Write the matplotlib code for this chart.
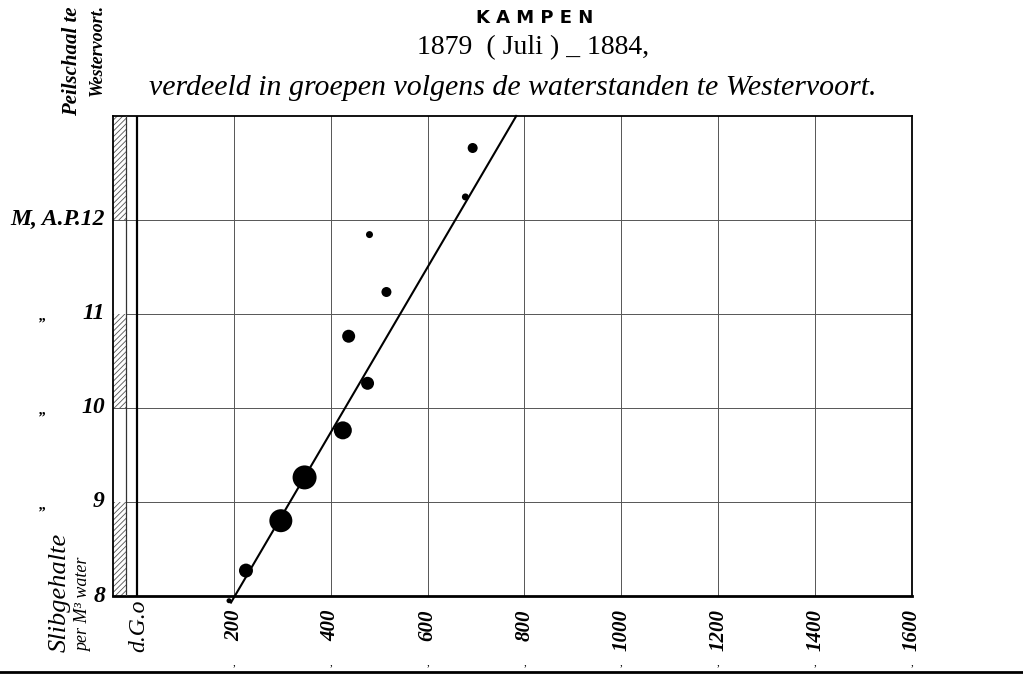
import matplotlib
matplotlib.use("Agg")
import matplotlib.pyplot as plt
from matplotlib.patches import Rectangle

# ========================================
# DATA
# ========================================

# waterstand-groups: afvoer (x) vs slibgehalte (y), dot diameter in px
afvoer = [190, 225, 297, 346, 425, 476, 437, 515, 480, 678, 693]
slib = [7.95, 8.27, 8.80, 9.26, 9.76, 10.26, 10.76, 11.23, 11.84, 12.24, 12.76]
dot_diam = [5, 14, 23, 24, 18, 13, 13, 10, 7, 7, 10]

# fitted line, two end points
line_x = [194, 783]
line_y = [7.93, 13.10]

x_ticks = [200, 400, 600, 800, 1000, 1200, 1400, 1600]
x_labels = ["200", "400", "600", "800", "1000", "1200", "1400", "1600"]
y_ticks = [8, 9, 10, 11, 12]
y_labels = ["8", "9", "10", "11", "M, A.P.12"]

# hatched parts of the gauge column (peilschaal)
gauge_hatched = [(8, 9), (10, 11), (12, 13.1)]

X_MIN, X_MAX = -49.5, 1600
Y_MIN, Y_MAX = 8, 13.1
GAUGE_RIGHT = -21.7

plt.rcParams["hatch.linewidth"] = 0.6
SERIF = "Liberation Serif"

fig = plt.figure(figsize=(10.23, 6.79), dpi=100)
fig.patch.set_facecolor("white")
ax = fig.add_axes([113 / 1023, 1 - 596 / 679, (912 - 113) / 1023, (596 - 116) / 679])
ax.set_xlim(X_MIN, X_MAX)
ax.set_ylim(Y_MIN, Y_MAX)

# grid
for xv in x_ticks[:-1]:
    ax.axvline(xv, color="#555555", lw=0.7, zorder=1)
for yv in y_ticks[1:]:
    ax.axhline(yv, color="#555555", lw=0.7, zorder=1)

# gauge column
for lo, hi in gauge_hatched:
    ax.add_patch(Rectangle((X_MIN, lo), GAUGE_RIGHT - X_MIN, hi - lo,
                           facecolor="white", edgecolor="#555555",
                           hatch="//////", lw=0, zorder=2))
ax.axvline(GAUGE_RIGHT, color="#333333", lw=0.9, zorder=3)
ax.axvline(0, color="black", lw=1.6, zorder=3)

# line and dots
ax.plot(line_x, line_y, color="black", lw=1.5, zorder=4, clip_on=False)
ax.scatter(afvoer, slib, s=[(d * 0.72) ** 2 for d in dot_diam],
           color="black", zorder=5, clip_on=False, linewidths=0)

for side in ["left", "right", "top"]:
    ax.spines[side].set_linewidth(1.3)
ax.spines["bottom"].set_linewidth(2.0)
ax.set_xticks([])
ax.set_yticks([])

# x labels (rotated)
for xv, lab in zip(x_ticks, x_labels):
    ax.text(xv, 7.86, lab, rotation=90, ha="center", va="top",
            fontsize=15, fontfamily=SERIF, fontstyle="italic", fontweight="bold")
    ax.text(xv, 7.29, ",", ha="center", va="center", fontsize=8, fontfamily=SERIF)

# y labels
for yv, lab in zip(y_ticks, y_labels):
    ax.text(-66, yv, lab, ha="right", va="center", fontsize=17,
            fontfamily=SERIF, fontstyle="italic", fontweight="bold")
for yv in [9, 10, 11]:
    fig.text(43 / 1023, ax.transData.transform((0, yv))[1] / 679 - 0.004, "\u201e",
             ha="center", va="center", fontsize=11, fontfamily=SERIF,
             fontstyle="italic", fontweight="bold")

# left rotated captions
fig.text(60 / 1023, 1 - 652 / 679, "Slibgehalte", rotation=90, ha="center", va="bottom",
         fontsize=19, fontfamily=SERIF, fontstyle="italic")
fig.text(84 / 1023, 1 - 652 / 679, "per M\u00b3 water", rotation=90, ha="center", va="bottom",
         fontsize=13, fontfamily=SERIF, fontstyle="italic")
fig.text(139 / 1023, 1 - 652 / 679, "d.G.o", rotation=90, ha="center", va="bottom",
         fontsize=17, fontfamily=SERIF, fontstyle="italic")
fig.text(72 / 1023, 1 - 116 / 679, "Peilschaal te", rotation=90, ha="center", va="bottom",
         fontsize=15, fontfamily=SERIF, fontstyle="italic", fontweight="bold")
fig.text(97 / 1023, 1 - 96 / 679, "Westervoort.", rotation=90, ha="center", va="bottom",
         fontsize=13, fontfamily=SERIF, fontstyle="italic", fontweight="bold")

# titles
fig.text(535 / 1023, 1 - 18 / 679, "K A M P E N", ha="center", va="center",
         fontsize=13, fontweight="bold", fontfamily="DejaVu Sans")
fig.text(533 / 1023, 1 - 48 / 679, "1879  ( Juli ) _ 1884,", ha="center", va="center",
         fontsize=20, fontfamily=SERIF)
fig.text(513 / 1023, 1 - 88 / 679,
         "verdeeld in groepen volgens de waterstanden te Westervoort.",
         ha="center", va="center", fontsize=21.5, fontfamily=SERIF, fontstyle="italic")

# bottom rule
fig.add_artist(plt.Line2D([0, 1], [1 - 672 / 679, 1 - 672 / 679], color="black", lw=2))

fig.savefig("out.png", dpi=100)
